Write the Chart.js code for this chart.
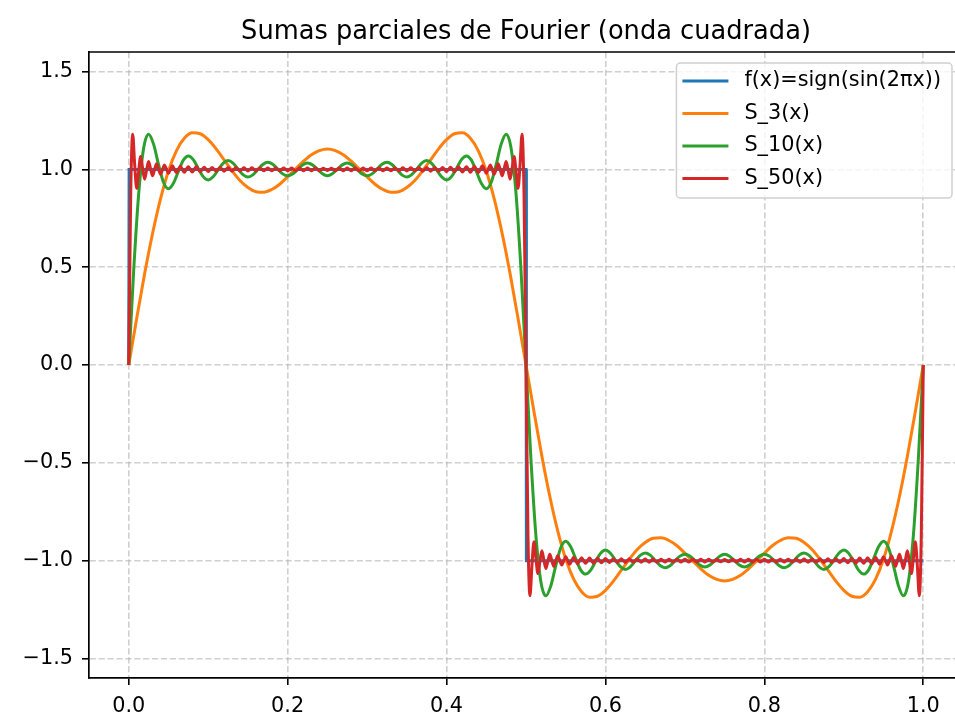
<!DOCTYPE html>
<html lang="es">
<head>
    <meta charset="UTF-8">
    <script src="https://cdn.jsdelivr.net/npm/chart.js@4.4.1/dist/chart.umd.min.js"></script>
    <title>Sumas parciales de Fourier</title>
    <style>
        html, body { margin: 0; padding: 0; overflow: hidden; background: #fff; }
        #wrap { position: absolute; left: 0; top: 0; width: 955px; height: 715px; overflow: hidden; }
        #chart { position: absolute; left: 0; top: 0; }
    </style>
</head>
<body>
<div id="wrap"><canvas id="chart" width="975" height="715"></canvas></div>

<script>
// f(x) = sign(sin(2*pi*x))
const xF = [0, 0.0005, 0.5, 0.5005, 1];
const yF = [0, 1, 1, -1, -1];

// S_3(x), sampled every 0.01
const x3 = [
    0,.01,.02,.03,.04,.05,.06,.07,.08,.09,
    .1,.11,.12,.13,.14,.15,.16,.17,.18,.19,
    .2,.21,.22,.23,.24,.25,.26,.27,.28,.29,
    .3,.31,.32,.33,.34,.35,.36,.37,.38,.39,
    .4,.41,.42,.43,.44,.45,.46,.47,.48,.49,
    .5,.51,.52,.53,.54,.55,.56,.57,.58,.59,
    .6,.61,.62,.63,.64,.65,.66,.67,.68,.69,
    .7,.71,.72,.73,.74,.75,.76,.77,.78,.79,
    .8,.81,.82,.83,.84,.85,.86,.87,.88,.89,
    .9,.91,.92,.93,.94,.95,.96,.97,.98,.99,
    1
];
const y3 = [
    0,.238,.466,.672,.849,.992,1.095,1.159,1.187,1.182,
    1.152,1.105,1.049,.993,.943,.907,.886,.883,.897,.924,
    .962,1.003,1.042,1.075,1.096,1.104,1.096,1.075,1.042,1.003,
    .962,.924,.897,.883,.886,.907,.943,.993,1.049,1.105,
    1.152,1.182,1.187,1.159,1.095,.992,.849,.672,.466,.238,
    0,-.238,-.466,-.672,-.849,-.992,-1.095,-1.159,-1.187,-1.182,
    -1.152,-1.105,-1.049,-.993,-.943,-.907,-.886,-.883,-.897,-.924,
    -.962,-1.003,-1.042,-1.075,-1.096,-1.104,-1.096,-1.075,-1.042,-1.003,
    -.962,-.924,-.897,-.883,-.886,-.907,-.943,-.993,-1.049,-1.105,
    -1.152,-1.182,-1.187,-1.159,-1.095,-.992,-.849,-.672,-.466,-.238,
    0
];

// S_10(x), sampled every 0.00625
const x10 = [
    0,.00625,.0125,.01875,.025,.03125,.0375,.04375,
    .05,.05625,.0625,.06875,.075,.08125,.0875,.09375,
    .1,.10625,.1125,.11875,.125,.13125,.1375,.14375,
    .15,.15625,.1625,.16875,.175,.18125,.1875,.19375,
    .2,.20625,.2125,.21875,.225,.23125,.2375,.24375,
    .25,.25625,.2625,.26875,.275,.28125,.2875,.29375,
    .3,.30625,.3125,.31875,.325,.33125,.3375,.34375,
    .35,.35625,.3625,.36875,.375,.38125,.3875,.39375,
    .4,.40625,.4125,.41875,.425,.43125,.4375,.44375,
    .45,.45625,.4625,.46875,.475,.48125,.4875,.49375,
    .5,.50625,.5125,.51875,.525,.53125,.5375,.54375,
    .55,.55625,.5625,.56875,.575,.58125,.5875,.59375,
    .6,.60625,.6125,.61875,.625,.63125,.6375,.64375,
    .65,.65625,.6625,.66875,.675,.68125,.6875,.69375,
    .7,.70625,.7125,.71875,.725,.73125,.7375,.74375,
    .75,.75625,.7625,.76875,.775,.78125,.7875,.79375,
    .8,.80625,.8125,.81875,.825,.83125,.8375,.84375,
    .85,.85625,.8625,.86875,.875,.88125,.8875,.89375,
    .9,.90625,.9125,.91875,.925,.93125,.9375,.94375,
    .95,.95625,.9625,.96875,.975,.98125,.9875,.99375,
    1
];
const y10 = [
    0,.483,.873,1.108,1.18,1.129,1.025,.934,
    .901,.929,.99,1.047,1.069,1.05,1.005,.963,
    .946,.962,.997,1.031,1.045,1.032,1.002,.973,
    .961,.972,.999,1.025,1.036,1.026,1.001,.977,
    .967,.976,.999,1.022,1.032,1.023,1.001,.978,
    .968,.978,1.001,1.023,1.032,1.022,.999,.976,
    .967,.977,1.001,1.026,1.036,1.025,.999,.972,
    .961,.973,1.002,1.032,1.045,1.031,.997,.962,
    .946,.963,1.005,1.05,1.069,1.047,.99,.929,
    .901,.934,1.025,1.129,1.18,1.108,.873,.483,
    0,-.483,-.873,-1.108,-1.18,-1.129,-1.025,-.934,
    -.901,-.929,-.99,-1.047,-1.069,-1.05,-1.005,-.963,
    -.946,-.962,-.997,-1.031,-1.045,-1.032,-1.002,-.973,
    -.961,-.972,-.999,-1.025,-1.036,-1.026,-1.001,-.977,
    -.967,-.976,-.999,-1.022,-1.032,-1.023,-1.001,-.978,
    -.968,-.978,-1.001,-1.023,-1.032,-1.022,-.999,-.976,
    -.967,-.977,-1.001,-1.026,-1.036,-1.025,-.999,-.972,
    -.961,-.973,-1.002,-1.032,-1.045,-1.031,-.997,-.962,
    -.946,-.963,-1.005,-1.05,-1.069,-1.047,-.99,-.929,
    -.901,-.934,-1.025,-1.129,-1.18,-1.108,-.873,-.483,
    0
];

// S_50(x), sampled every 0.0025
const x50 = [
    0,.0025,.005,.0075,.01,.0125,.015,.0175,.02,.0225,
    .025,.0275,.03,.0325,.035,.0375,.04,.0425,.045,.0475,
    .05,.0525,.055,.0575,.06,.0625,.065,.0675,.07,.0725,
    .075,.0775,.08,.0825,.085,.0875,.09,.0925,.095,.0975,
    .1,.1025,.105,.1075,.11,.1125,.115,.1175,.12,.1225,
    .125,.1275,.13,.1325,.135,.1375,.14,.1425,.145,.1475,
    .15,.1525,.155,.1575,.16,.1625,.165,.1675,.17,.1725,
    .175,.1775,.18,.1825,.185,.1875,.19,.1925,.195,.1975,
    .2,.2025,.205,.2075,.21,.2125,.215,.2175,.22,.2225,
    .225,.2275,.23,.2325,.235,.2375,.24,.2425,.245,.2475,
    .25,.2525,.255,.2575,.26,.2625,.265,.2675,.27,.2725,
    .275,.2775,.28,.2825,.285,.2875,.29,.2925,.295,.2975,
    .3,.3025,.305,.3075,.31,.3125,.315,.3175,.32,.3225,
    .325,.3275,.33,.3325,.335,.3375,.34,.3425,.345,.3475,
    .35,.3525,.355,.3575,.36,.3625,.365,.3675,.37,.3725,
    .375,.3775,.38,.3825,.385,.3875,.39,.3925,.395,.3975,
    .4,.4025,.405,.4075,.41,.4125,.415,.4175,.42,.4225,
    .425,.4275,.43,.4325,.435,.4375,.44,.4425,.445,.4475,
    .45,.4525,.455,.4575,.46,.4625,.465,.4675,.47,.4725,
    .475,.4775,.48,.4825,.485,.4875,.49,.4925,.495,.4975,
    .5,.5025,.505,.5075,.51,.5125,.515,.5175,.52,.5225,
    .525,.5275,.53,.5325,.535,.5375,.54,.5425,.545,.5475,
    .55,.5525,.555,.5575,.56,.5625,.565,.5675,.57,.5725,
    .575,.5775,.58,.5825,.585,.5875,.59,.5925,.595,.5975,
    .6,.6025,.605,.6075,.61,.6125,.615,.6175,.62,.6225,
    .625,.6275,.63,.6325,.635,.6375,.64,.6425,.645,.6475,
    .65,.6525,.655,.6575,.66,.6625,.665,.6675,.67,.6725,
    .675,.6775,.68,.6825,.685,.6875,.69,.6925,.695,.6975,
    .7,.7025,.705,.7075,.71,.7125,.715,.7175,.72,.7225,
    .725,.7275,.73,.7325,.735,.7375,.74,.7425,.745,.7475,
    .75,.7525,.755,.7575,.76,.7625,.765,.7675,.77,.7725,
    .775,.7775,.78,.7825,.785,.7875,.79,.7925,.795,.7975,
    .8,.8025,.805,.8075,.81,.8125,.815,.8175,.82,.8225,
    .825,.8275,.83,.8325,.835,.8375,.84,.8425,.845,.8475,
    .85,.8525,.855,.8575,.86,.8625,.865,.8675,.87,.8725,
    .875,.8775,.88,.8825,.885,.8875,.89,.8925,.895,.8975,
    .9,.9025,.905,.9075,.91,.9125,.915,.9175,.92,.9225,
    .925,.9275,.93,.9325,.935,.9375,.94,.9425,.945,.9475,
    .95,.9525,.955,.9575,.96,.9625,.965,.9675,.97,.9725,
    .975,.9775,.98,.9825,.985,.9875,.99,.9925,.995,.9975,
    1
];
const y50 = [
    0,.873,1.179,1.024,.903,.991,1.066,1.005,.95,.997,
    1.04,1.002,.967,.999,1.029,1.001,.975,.999,1.023,1.001,
    .98,1,1.019,1,.983,1,1.016,1,.985,1,
    1.014,1,.987,1,1.013,1,.988,1,1.011,1,
    .989,1,1.01,1,.99,1,1.01,1,.991,1,
    1.009,1,.991,1,1.008,1,.992,1,1.008,1,
    .992,1,1.008,1,.992,1,1.007,1,.993,1,
    1.007,1,.993,1,1.007,1,.993,1,1.007,1,
    .993,1,1.007,1,.993,1,1.007,1,.993,1,
    1.007,1,.993,1,1.007,1,.993,1,1.006,1,
    .994,1,1.006,1,.993,1,1.007,1,.993,1,
    1.007,1,.993,1,1.007,1,.993,1,1.007,1,
    .993,1,1.007,1,.993,1,1.007,1,.993,1,
    1.007,1,.993,1,1.007,1,.992,1,1.008,1,
    .992,1,1.008,1,.992,1,1.008,1,.991,1,
    1.009,1,.991,1,1.01,1,.99,1,1.01,1,
    .989,1,1.011,1,.988,1,1.013,1,.987,1,
    1.014,1,.985,1,1.016,1,.983,1,1.019,1,
    .98,1.001,1.023,.999,.975,1.001,1.029,.999,.967,1.002,
    1.04,.997,.95,1.005,1.066,.991,.903,1.024,1.179,.873,
    0,-.873,-1.179,-1.024,-.903,-.991,-1.066,-1.005,-.95,-.997,
    -1.04,-1.002,-.967,-.999,-1.029,-1.001,-.975,-.999,-1.023,-1.001,
    -.98,-1,-1.019,-1,-.983,-1,-1.016,-1,-.985,-1,
    -1.014,-1,-.987,-1,-1.013,-1,-.988,-1,-1.011,-1,
    -.989,-1,-1.01,-1,-.99,-1,-1.01,-1,-.991,-1,
    -1.009,-1,-.991,-1,-1.008,-1,-.992,-1,-1.008,-1,
    -.992,-1,-1.008,-1,-.992,-1,-1.007,-1,-.993,-1,
    -1.007,-1,-.993,-1,-1.007,-1,-.993,-1,-1.007,-1,
    -.993,-1,-1.007,-1,-.993,-1,-1.007,-1,-.993,-1,
    -1.007,-1,-.993,-1,-1.007,-1,-.993,-1,-1.006,-1,
    -.994,-1,-1.006,-1,-.993,-1,-1.007,-1,-.993,-1,
    -1.007,-1,-.993,-1,-1.007,-1,-.993,-1,-1.007,-1,
    -.993,-1,-1.007,-1,-.993,-1,-1.007,-1,-.993,-1,
    -1.007,-1,-.993,-1,-1.007,-1,-.992,-1,-1.008,-1,
    -.992,-1,-1.008,-1,-.992,-1,-1.008,-1,-.991,-1,
    -1.009,-1,-.991,-1,-1.01,-1,-.99,-1,-1.01,-1,
    -.989,-1,-1.011,-1,-.988,-1,-1.013,-1,-.987,-1,
    -1.014,-1,-.985,-1,-1.016,-1,-.983,-1,-1.019,-1,
    -.98,-1.001,-1.023,-.999,-.975,-1.001,-1.029,-.999,-.967,-1.002,
    -1.04,-.997,-.95,-1.005,-1.066,-.991,-.903,-1.024,-1.179,-.873,
    0
];

const xTicks = [0, 0.2, 0.4, 0.6, 0.8, 1.0];
const xTickLabels = ['0.0', '0.2', '0.4', '0.6', '0.8', '1.0'];
const yTicks = [-1.5, -1.0, -0.5, 0, 0.5, 1.0, 1.5];
const yTickLabels = ['\u22121.5', '\u22121.0', '\u22120.5', '0.0', '0.5', '1.0', '1.5'];

const title = 'Sumas parciales de Fourier (onda cuadrada)';
const labels = ['f(x)=sign(sin(2\u03c0x))', 'S_3(x)', 'S_10(x)', 'S_50(x)'];
const colors = ['#1f77b4', '#ff7f0e', '#2ca02c', '#d62728'];

function pts(xs, ys) {
    return xs.map((x, i) => ({x: x, y: ys[i]}));
}

const FONT = '"DejaVu Sans", "Liberation Sans", sans-serif';
Chart.defaults.font.family = FONT;
Chart.defaults.color = '#000';

// title centred over the axes, plus the top spine
const frame = {
    id: 'frame',
    afterDatasetsDraw(chart) {
        const {ctx, chartArea: a} = chart;
        ctx.save();
        ctx.strokeStyle = '#000';
        ctx.lineWidth = 1.7;
        ctx.beginPath();
        ctx.moveTo(a.left, a.top);
        ctx.lineTo(a.right, a.top);
        ctx.stroke();
        ctx.font = '25.7px ' + FONT;
        ctx.fillStyle = '#000';
        ctx.textAlign = 'center';
        ctx.textBaseline = 'alphabetic';
        ctx.fillText(title, (a.left + a.right) / 2, a.top - 13);
        ctx.restore();
    }
};

// legend box in the upper right corner of the axes
const legendBox = {
    id: 'legendBox',
    afterDraw(chart) {
        const {ctx, chartArea: a} = chart;
        const sets = chart.data.datasets;
        ctx.save();
        ctx.font = '20.8px ' + FONT;
        const maxW = Math.max(...sets.map(d => ctx.measureText(d.label).width));
        const w = 6 + 46 + 16 + maxW + 11;
        const h = 135;
        const x0 = a.right - 11 - w;
        const y0 = a.top + 11;
        ctx.beginPath();
        ctx.roundRect(x0, y0, w, h, 4);
        ctx.fillStyle = 'rgba(255,255,255,0.8)';
        ctx.fill();
        ctx.strokeStyle = '#d0d0d0';
        ctx.lineWidth = 1.5;
        ctx.stroke();
        ctx.textBaseline = 'middle';
        ctx.textAlign = 'left';
        sets.forEach((d, i) => {
            const cy = y0 + 18 + i * 32.5;
            ctx.beginPath();
            ctx.moveTo(x0 + 6, cy);
            ctx.lineTo(x0 + 52, cy);
            ctx.strokeStyle = d.borderColor;
            ctx.lineWidth = 3;
            ctx.stroke();
            ctx.fillStyle = '#000';
            ctx.fillText(d.label, x0 + 68, cy);
        });
        ctx.restore();
    }
};

const gridStyle = {
    color: 'rgba(176,176,176,0.6)',
    lineWidth: 1.6,
    tickColor: '#000',
    tickLength: 7,
    tickWidth: 1.6
};

new Chart(document.getElementById('chart'), {
    type: 'scatter',
    data: {
        datasets: [
            {label: labels[0], data: pts(xF, yF), borderColor: colors[0], backgroundColor: colors[0],
             showLine: true, tension: 0, pointRadius: 0, borderWidth: 3, order: 4},
            {label: labels[1], data: pts(x3, y3), borderColor: colors[1], backgroundColor: colors[1],
             showLine: true, cubicInterpolationMode: 'monotone', pointRadius: 0, borderWidth: 3, order: 3},
            {label: labels[2], data: pts(x10, y10), borderColor: colors[2], backgroundColor: colors[2],
             showLine: true, cubicInterpolationMode: 'monotone', pointRadius: 0, borderWidth: 3, order: 2},
            {label: labels[3], data: pts(x50, y50), borderColor: colors[3], backgroundColor: colors[3],
             showLine: true, cubicInterpolationMode: 'monotone', pointRadius: 0, borderWidth: 3, order: 1}
        ]
    },
    options: {
        responsive: false,
        animation: false,
        devicePixelRatio: 1,
        events: [],
        layout: {padding: {left: 0, right: 12, top: 52, bottom: 0}},
        plugins: {
            legend: {display: false},
            tooltip: {enabled: false},
            title: {display: false}
        },
        scales: {
            x: {
                type: 'linear',
                min: -0.05,
                max: 1.05,
                afterBuildTicks: axis => { axis.ticks = xTicks.map(v => ({value: v})); },
                afterFit: axis => { axis.height = 37; },
                ticks: {
                    font: {size: 20.8},
                    color: '#000',
                    padding: 9,
                    maxRotation: 0,
                    callback: (v, i) => xTickLabels[i]
                },
                grid: gridStyle,
                border: {color: '#000', width: 1.7, dash: [6.2, 2.7]}
            },
            y: {
                type: 'linear',
                min: -1.6,
                max: 1.6,
                afterBuildTicks: axis => { axis.ticks = yTicks.map(v => ({value: v})); },
                afterFit: axis => { axis.width = 89; },
                ticks: {
                    font: {size: 20.8},
                    color: '#000',
                    padding: 9,
                    callback: (v, i) => yTickLabels[i]
                },
                grid: gridStyle,
                border: {color: '#000', width: 1.7, dash: [6.2, 2.7]}
            }
        }
    },
    plugins: [frame, legendBox]
});
</script>
</body>
</html>
